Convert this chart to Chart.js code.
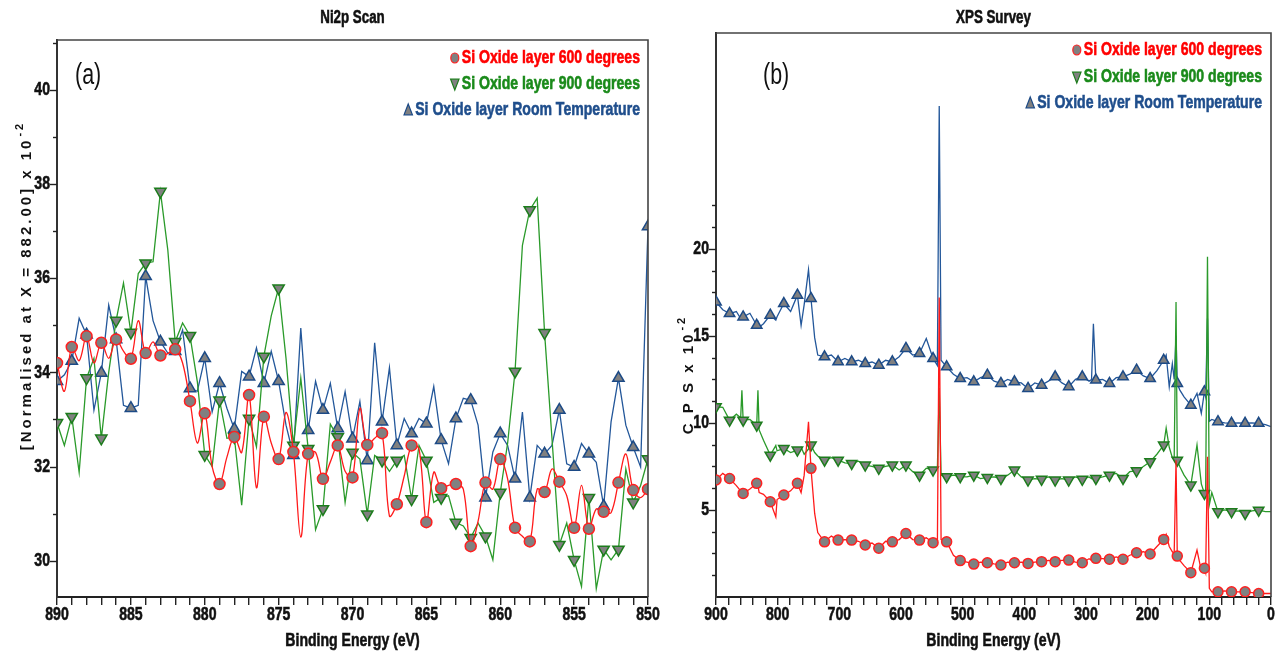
<!DOCTYPE html>
<html>
<head>
<meta charset="utf-8">
<script src="https://cdn.jsdelivr.net/npm/chart.js@4.4.1/dist/chart.umd.min.js"></script>
<style>
html, body { margin: 0; padding: 0; background: #fff; }
#wrap { position: relative; width: 1283px; height: 664px; }
#boxA { position: absolute; left: 0; top: 0; width: 660px; height: 664px; }
#boxB { position: absolute; left: 660px; top: 0; width: 623px; height: 664px; }
</style>
</head>
<body>
<div id="wrap">
  <div id="boxA"><canvas id="chartA"></canvas></div>
  <div id="boxB"><canvas id="chartB"></canvas></div>
</div>
<script>
// Noms des séries
const seriesNames = ["Si Oxide layer 600 degrees", "Si Oxide layer 900 degrees", "Si Oxide layer Room Temperature"];

// Panneau (a) : Ni2p Scan
const niEnergy = [
    890, 889.5, 889, 888.5, 888, 887.5, 887, 886.5, 886, 885.5,
    885, 884.5, 884, 883.5, 883, 882.5, 882, 881.5, 881, 880.5,
    880, 879.5, 879, 878.5, 878, 877.5, 877, 876.5, 876, 875.5,
    875, 874.5, 874, 873.5, 873, 872.5, 872, 871.5, 871, 870.5,
    870, 869.5, 869, 868.5, 868, 867.5, 867, 866.5, 866, 865.5,
    865, 864.5, 864, 863.5, 863, 862.5, 862, 861.5, 861, 860.5,
    860, 859.5, 859, 858.5, 858, 857.5, 857, 856.5, 856, 855.5,
    855, 854.5, 854, 853.5, 853, 852.5, 852, 851.5, 851, 850.5,
    850
];
const ni600 = [
    34.2, 33.6, 34.54, 34.25, 34.77, 34.2, 34.63, 34.3, 34.7, 34.45,
    34.29, 35.1, 34.41, 34.65, 34.36, 34.4, 34.49, 34.2, 33.39, 32.5,
    33.13, 32.0, 31.63, 32.2, 32.63, 32.3, 33.52, 31.55, 33.06, 32.5,
    32.16, 33.15, 32.31, 30.5, 32.27, 32.3, 31.74, 32.1, 32.45, 31.9,
    31.77, 33.24, 32.46, 32.6, 32.71, 30.95, 31.2, 31.8, 32.45, 32.38,
    30.82, 31.88, 31.54, 31.6, 31.63, 31.52, 30.31, 30.84, 31.66, 31.52,
    32.16, 31.74, 30.7, 30.52, 30.41, 31.52, 31.46, 31.95, 31.68, 31.38,
    30.7, 31.6, 30.68, 31.1, 31.04, 31.02, 31.66, 32.27, 31.5, 31.34,
    31.52
];
const ni900 = [
    32.93, 32.45, 33.06, 31.88, 33.88, 34.3, 32.6, 34.0, 35.1, 35.9,
    34.85, 36.1, 36.32, 36.35, 37.84, 36.6, 34.65, 35.05, 34.78, 33.8,
    32.25, 32.0, 33.41, 32.6, 32.63, 31.18, 33.02, 32.42, 34.34, 35.2,
    35.79, 34.3, 32.45, 33.88, 32.38, 30.66, 31.1, 32.9, 32.63, 31.24,
    32.3, 32.16, 30.99, 32.24, 32.13, 31.9, 32.13, 32.24, 31.31, 32.45,
    32.13, 31.24, 31.34, 31.38, 30.81, 30.74, 30.49, 30.8, 30.52, 30.02,
    31.45, 32.5, 34.02, 36.7, 37.45, 37.7, 34.84, 32.6, 30.34, 30.8,
    30.02, 29.45, 31.34, 29.41, 30.24, 30.02, 30.24, 31.95, 31.24, 31.6,
    32.16
];
const niRoom = [
    33.81, 33.95, 34.24, 35.15, 34.8, 33.2, 33.99, 35.43, 34.7, 33.3,
    33.24, 33.3, 36.04, 35.1, 34.65, 34.41, 34.45, 34.9, 33.66, 33.6,
    34.3, 33.16, 33.77, 33.24, 32.8, 34.02, 33.91, 34.52, 33.77, 34.45,
    33.81, 32.88, 32.24, 34.94, 32.77, 33.81, 33.2, 33.77, 32.81, 33.59,
    32.59, 33.38, 32.13, 34.63, 32.95, 34.1, 32.45, 33.02, 32.7, 33.02,
    32.91, 33.7, 32.56, 32.06, 33.02, 33.45, 33.41, 32.88, 31.34, 32.31,
    32.7, 32.45, 31.74, 33.16, 31.34, 32.45, 32.27, 32.45, 33.2, 32.06,
    31.99, 32.49, 32.27, 32.09, 31.16, 32.95, 33.88, 32.88, 32.41, 31.99,
    37.1
];
const niXLabels = [890, 885, 880, 875, 870, 865, 860, 855, 850];
const niYLabels = [30, 32, 34, 36, 38, 40];

// Panneau (b) : XPS Survey
const svEnergy = [
    900, 889, 878, 867, 860, 858, 856, 845, 834, 832,
    830, 823, 812, 803, 801, 790, 779, 768, 762, 757,
    750, 746, 740, 735, 724, 713, 702, 691, 680, 669,
    658, 647, 636, 625, 614, 603, 592, 581, 570, 559,
    548, 541, 538, 535, 526, 515, 504, 493, 482, 471,
    460, 449, 438, 427, 416, 405, 394, 383, 372, 361,
    350, 339, 328, 317, 306, 295, 291, 288, 284, 273,
    262, 251, 240, 229, 218, 207, 196, 185, 174, 170,
    165, 160, 157, 154, 152, 148, 141, 130, 120, 113,
    108, 106, 103, 100, 96, 86, 75, 64, 53, 42,
    31, 20, 9, 0
];
const sv600 = [
    6.72, 7.1, 6.81, 6.4, 6.1, 6.2, 5.95, 6.2, 6.53, 6.4,
    6.0, 5.9, 5.47, 4.6, 5.6, 5.86, 6.1, 6.53, 6.0, 7.0,
    10.07, 7.39, 4.8, 3.7, 3.17, 3.5, 3.27, 3.3, 3.27, 3.2,
    2.99, 3.1, 2.8, 3.2, 3.17, 3.3, 3.65, 3.3, 3.27, 3.4,
    3.12, 3.0, 17.2, 3.3, 3.17, 2.4, 2.09, 2.0, 1.89, 2.0,
    1.97, 1.9, 1.84, 2.0, 1.97, 2.0, 1.93, 2.0, 2.03, 2.1,
    2.03, 2.1, 2.12, 2.0, 1.97, 2.2, 2.1, 2.2, 2.22, 2.2,
    2.17, 2.3, 2.17, 2.4, 2.54, 2.6, 2.47, 2.9, 3.31, 3.6,
    2.9, 2.6, 2.5, 7.86, 2.35, 2.1, 1.8, 1.4, 2.7, 1.5,
    1.65, 1.4, 8.05, 0.5, 0.3, 0.3, 0.35, 0.3, 0.3, 0.3,
    0.25, 0.2, 0.2, 0.2
];
const sv900 = [
    10.93, 10.9, 10.16, 10.5, 10.3, 11.88, 10.16, 10.2, 9.87, 11.88,
    9.6, 9.0, 8.15, 8.7, 8.4, 8.53, 8.3, 8.44, 8.6, 8.2,
    8.5, 8.73, 8.3, 8.1, 7.86, 8.0, 7.86, 7.7, 7.67, 7.8,
    7.58, 7.5, 7.39, 7.5, 7.58, 7.3, 7.58, 7.2, 7.0, 7.4,
    7.29, 7.4, 12.0, 7.0, 6.91, 7.0, 6.91, 6.9, 7.0, 6.8,
    6.87, 6.9, 6.81, 7.0, 7.29, 6.9, 6.72, 6.8, 6.76, 6.9,
    6.72, 6.8, 6.72, 6.9, 6.76, 6.9, 6.8, 6.9, 6.81, 6.9,
    7.0, 7.1, 6.81, 7.2, 7.25, 7.5, 7.77, 8.2, 8.73, 9.7,
    8.6, 8.0, 7.9, 16.95, 7.86, 7.5, 7.0, 6.43, 8.73, 6.5,
    5.95, 5.9, 19.54, 5.3, 6.0, 4.9, 5.0, 4.9, 4.95, 4.8,
    4.95, 4.99, 4.9, 4.9
];
const svRoom = [
    16.95, 16.5, 16.28, 16.4, 16.0, 16.2, 16.09, 16.3, 15.61, 15.8,
    15.5, 15.7, 16.19, 15.9, 16.1, 16.86, 16.4, 17.34, 15.6, 16.8,
    18.8, 17.15, 14.9, 13.9, 13.8, 13.9, 13.51, 13.7, 13.51, 13.6,
    13.41, 13.5, 13.32, 13.6, 13.51, 13.8, 14.28, 13.9, 13.99, 14.85,
    13.7, 13.3, 28.2, 13.6, 13.22, 12.8, 12.55, 12.6, 12.36, 12.6,
    12.74, 12.4, 12.27, 12.5, 12.36, 12.3, 11.98, 12.3, 12.17, 12.4,
    12.65, 12.3, 12.08, 12.5, 12.65, 12.4, 12.5, 15.7, 12.46, 12.5,
    12.27, 12.6, 12.65, 12.8, 13.03, 12.7, 12.55, 13.0, 13.6, 13.9,
    12.07, 13.4, 12.5, 15.0, 12.27, 11.9, 11.5, 11.02, 11.7, 10.55,
    11.79, 11.5, 16.0, 10.1, 10.2, 10.07, 10.0, 9.98, 10.0, 9.98,
    10.0, 9.98, 9.9, 9.78
];
const svXLabels = [900, 800, 700, 600, 500, 400, 300, 200, 100, 0];
const svYLabels = [5, 10, 15, 20];

// Polices et couleurs
const WIDE = "'Liberation Sans', Arial, sans-serif";
const SQUEEZE = 0.74;   // écrasement horizontal, façon Arial Narrow
const INK = '#111';
const styles = [
    { line: '#ff1a1a', edge: '#ff2020', text: '#ff0000', shape: 'circle', rot: 0 },
    { line: '#2a9a2a', edge: '#1c7c1c', text: '#1a8a1a', shape: 'triangle', rot: 180 },
    { line: '#23579a', edge: '#1c4a86', text: '#1f4e8c', shape: 'triangle', rot: 0 }
];

// Fonction pour créer un jeu de données
function makeDataset(i, xs, ys, isMark, radius, tension) {
    const st = styles[i];
    return {
        label: seriesNames[i],
        data: xs.map((x, k) => ({ x: x, y: ys[k] })),
        borderColor: st.line,
        borderWidth: 1.3,
        tension: tension,
        fill: false,
        pointStyle: st.shape,
        pointRotation: st.rot,
        pointRadius: ctx => (ctx.raw && isMark(ctx.raw.x)) ? radius[i] : 0,
        pointBackgroundColor: '#808080',
        pointBorderColor: st.edge,
        pointBorderWidth: 1.5,
        pointHitRadius: 0,
        pointHoverRadius: 0
    };
}

// Texte étroit (gras, écrasé horizontalement)
function narrowText(ctx, text, x, y, size, align, color, weight) {
    ctx.save();
    ctx.font = (weight || 'bold') + ' ' + size + 'px ' + WIDE;
    ctx.fillStyle = color;
    ctx.strokeStyle = color;
    ctx.textBaseline = 'middle';
    ctx.textAlign = 'left';
    const w = ctx.measureText(text).width * SQUEEZE;
    const x0 = align === 'right' ? x - w : (align === 'center' ? x - w / 2 : x);
    ctx.translate(x0, y);
    ctx.scale(SQUEEZE, 1);
    ctx.fillText(text, 0, 0);
    if (!weight) {
        // un peu plus gras, comme l'Arial Narrow Bold
        ctx.lineWidth = 0.6;
        ctx.strokeText(text, 0, 0);
    }
    ctx.restore();
    return w;
}

// Petit marqueur de la légende
function drawMarker(ctx, st, x, y, r) {
    ctx.save();
    ctx.fillStyle = '#808080';
    ctx.strokeStyle = st.edge;
    ctx.lineWidth = 1.2;
    ctx.beginPath();
    if (st.shape === 'circle') {
        ctx.ellipse(x, y, r * 0.8, r, 0, 0, Math.PI * 2);
    } else {
        const d = st.rot ? -1 : 1;
        ctx.moveTo(x, y - d * r);
        ctx.lineTo(x + r * 0.7, y + d * r * 0.8);
        ctx.lineTo(x - r * 0.7, y + d * r * 0.8);
        ctx.closePath();
    }
    ctx.fill();
    ctx.stroke();
    ctx.restore();
}

// Titre vertical avec exposant
function drawYTitle(ctx, text, sup, cx, cy) {
    ctx.save();
    ctx.translate(cx, cy);
    ctx.rotate(-Math.PI / 2);
    ctx.fillStyle = INK;
    ctx.textAlign = 'left';
    ctx.textBaseline = 'middle';
    ctx.letterSpacing = '3px';
    ctx.font = 'bold 15px ' + WIDE;
    const w1 = ctx.measureText(text).width;
    ctx.font = 'bold 11px ' + WIDE;
    const w2 = ctx.measureText(sup).width;
    const x0 = -(w1 + w2) / 2;
    ctx.font = 'bold 15px ' + WIDE;
    ctx.fillText(text, x0, 1);
    ctx.font = 'bold 11px ' + WIDE;
    ctx.fillText(sup, x0 + w1 + 1, -6);
    ctx.restore();
}

// Plugin de décoration : cadre, graduations, étiquettes, titres, légende
function makeDecor(cfg) {
    return {
        id: 'decor',
        afterDraw(chart) {
            const ctx = chart.ctx;
            const a = chart.chartArea;
            const xs = chart.scales.x;
            const ys = chart.scales.y;
            ctx.save();

            // cadre haut et droit
            ctx.strokeStyle = '#444';
            ctx.lineWidth = 1.6;
            ctx.beginPath();
            ctx.moveTo(a.left, a.top);
            ctx.lineTo(a.right, a.top);
            ctx.lineTo(a.right, a.bottom);
            ctx.stroke();

            // graduations de l'axe y (majeures et mineures)
            ctx.strokeStyle = '#222';
            ctx.lineWidth = 1.4;
            ys.ticks.forEach(t => {
                if (t.value > cfg.yTickMax || t.value <= ys.min) return;
                const py = Math.round(ys.getPixelForValue(t.value)) + 0.5;
                const len = cfg.yLabels.includes(t.value) ? 7 : 4;
                ctx.beginPath();
                ctx.moveTo(a.left - len, py);
                ctx.lineTo(a.left, py);
                ctx.stroke();
            });
            ctx.restore();

            // étiquettes des axes
            cfg.xLabels.forEach(v => {
                narrowText(ctx, String(v), xs.getPixelForValue(v), a.bottom + 18, 19, 'center', INK);
            });
            cfg.yLabels.forEach(v => {
                narrowText(ctx, String(v), a.left - 7, ys.getPixelForValue(v), 19, 'right', INK);
            });

            // titres
            const cx = (a.left + a.right) / 2;
            narrowText(ctx, cfg.title, cx, 18, 18, 'center', INK);
            narrowText(ctx, 'Binding Energy (eV)', cx, 641, 19, 'center', INK);
            drawYTitle(ctx, cfg.yTitle, '-2', cfg.yTitleX, cfg.yTitleY);

            // étiquette du panneau
            narrowText(ctx, cfg.panel, cfg.panelX, cfg.panelY, 29, 'left', INK, 'normal');

            // légende
            seriesNames.forEach((name, i) => {
                const y = cfg.legendY[i];
                const w = narrowText(ctx, name, cfg.legendRight, y, 19, 'right', styles[i].text);
                drawMarker(ctx, styles[i], cfg.legendRight - w - 7, y, styles[i].shape === 'circle' ? 5 : 6);
            });
        }
    };
}

// Options communes des axes
function makeScales(xr, yr, xStep, yStep, yWidth) {
    return {
        x: {
            type: 'linear',
            reverse: true,
            min: xr[0],
            max: xr[1],
            afterFit: s => { s.height = 67; },
            ticks: { display: false, stepSize: xStep, autoSkip: false, includeBounds: false },
            grid: { display: true, drawOnChartArea: false, drawTicks: true, tickLength: 8, color: '#222', tickColor: '#222', lineWidth: 1.4 },
            border: { display: true, color: '#222', width: 2 }
        },
        y: {
            type: 'linear',
            min: yr[0],
            max: yr[1],
            afterFit: s => { s.width = yWidth; },
            ticks: { display: false, stepSize: yStep, autoSkip: false, includeBounds: false },
            grid: { display: false },
            border: { display: true, color: '#333', width: 2 }
        }
    };
}

// Création d'un graphique
function createChart(id, datasets, scales, padding, decor) {
    return new Chart(document.getElementById(id).getContext('2d'), {
        type: 'line',
        data: { datasets: datasets },
        options: {
            responsive: true,
            maintainAspectRatio: false,
            animation: false,
            devicePixelRatio: 1,
            layout: { padding: padding },
            plugins: { legend: { display: false }, tooltip: { enabled: false }, title: { display: false } },
            scales: scales
        },
        plugins: [decor]
    });
}

let niChart, svChart;

function initCharts() {
    const isInt = x => Number.isInteger(x);
    const isSurveyMark = x => (900 - x) % 22 === 0;

    niChart = createChart('chartA', [
        makeDataset(0, niEnergy, ni600, isInt, [5.5, 6.5, 6.5], 0.35),
        makeDataset(1, niEnergy, ni900, isInt, [5.5, 6.5, 6.5], 0),
        makeDataset(2, niEnergy, niRoom, isInt, [5.5, 6.5, 6.5], 0)
    ], makeScales([850, 890], [29.23, 41.06], 1, 1, 57),
    { top: 40, right: 12, left: 0, bottom: 0 },
    makeDecor({
        title: 'Ni2p Scan', yTitle: '[Normalised at X = 882.00] x 10', yTitleX: 26, yTitleY: 286,
        panel: '(a)', panelX: 75, panelY: 76, legendRight: 640, legendY: [58, 84, 110],
        xLabels: niXLabels, yLabels: niYLabels, yTickMax: 41
    }));

    svChart = createChart('chartB', [
        makeDataset(0, svEnergy, sv600, isSurveyMark, [5, 6, 6], 0),
        makeDataset(1, svEnergy, sv900, isSurveyMark, [5, 6, 6], 0),
        makeDataset(2, svEnergy, svRoom, isSurveyMark, [5, 6, 6], 0)
    ], makeScales([0, 900], [0, 32.4], 20, 1.25, 56),
    { top: 33, right: 12, left: 0, bottom: 0 },
    makeDecor({
        title: 'XPS Survey', yTitle: 'C P S x 10', yTitleX: 28, yTitleY: 375,
        panel: '(b)', panelX: 103, panelY: 76, legendRight: 602, legendY: [50, 77, 103],
        xLabels: svXLabels, yLabels: svYLabels, yTickMax: 22.5
    }));
}

document.addEventListener('DOMContentLoaded', initCharts);
</script>
</body>
</html>
